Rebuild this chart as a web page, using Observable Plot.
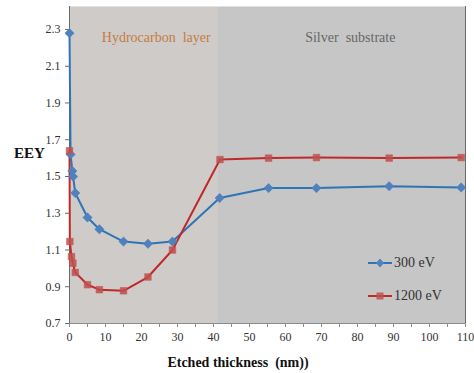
<!DOCTYPE html>
<html>
<head>
<meta charset="utf-8">
<script src="https://cdn.jsdelivr.net/npm/d3@7"></script>
<script src="https://cdn.jsdelivr.net/npm/@observablehq/plot@0.6"></script>
<style>
  html, body { margin: 0; padding: 0; background: #fff; }
  #wrap { position: relative; width: 474px; height: 373px; font-family: 'Liberation Serif', serif; }
  #wrap svg text { font-family: 'Liberation Serif', serif; }
  .leg { position: absolute; left: 368px; font-size: 14px; color: #333; display: flex; align-items: center; }
  .leg svg { margin-right: 2px; }
</style>
</head>
<body>
<div id="wrap"></div>
<script>
// Data
const thick300 = [0, 0.3, 0.8, 1.0, 1.6, 5.0, 8.3, 15.0, 21.8, 28.6, 41.7, 55.3, 68.6, 88.8, 108.8];
const eey300   = [2.28, 1.62, 1.53, 1.50, 1.41, 1.277, 1.213, 1.146, 1.134, 1.146, 1.383, 1.437, 1.437, 1.447, 1.44];
const thick1200 = [0, 0.1, 0.55, 0.95, 1.6, 5.0, 8.3, 15.0, 21.8, 28.6, 41.8, 55.3, 68.6, 88.8, 108.8];
const eey1200   = [1.64, 1.146, 1.064, 1.028, 0.978, 0.911, 0.884, 0.878, 0.953, 1.10, 1.592, 1.60, 1.603, 1.60, 1.603];
const regionNames = ["Hydrocarbon  layer", "Silver  substrate"];
const regionStart = [0, 41.3];
const regionEnd = [41.3, 110];
const regionLabelX = [24.1, 78];
const regionFill = ["#cfcbc9", "#c6c6c6"];
const regionText = ["#c47d44", "#666666"];
const yTicks = [0.7, 0.9, 1.1, 1.3, 1.5, 1.7, 1.9, 2.1, 2.3];
const xTicks = [0, 10, 20, 30, 40, 50, 60, 70, 80, 90, 100, 110];
const xMinorTicks = [0, 5, 10, 15, 20, 25, 30, 35, 40, 45, 50, 55, 60, 65, 70, 75, 80, 85, 90, 95, 100, 105, 110];
const seriesNames = ["300 eV", "1200 eV"];

const s300 = thick300.map((x, i) => ({x, y: eey300[i]}));
const s1200 = thick1200.map((x, i) => ({x, y: eey1200[i]}));
const regions = regionNames.map((name, i) => ({name, x1: regionStart[i], x2: regionEnd[i], fill: regionFill[i], color: regionText[i], lx: regionLabelX[i]}));

const blueLine = "#2f75b5", blueMark = "#4f81bd";
const redLine = "#c0282a", redMark = "#c0504d";
const font = "'Liberation Serif', serif";

const chart = Plot.plot({
  width: 474,
  height: 373,
  marginLeft: 69,
  marginRight: 9,
  marginTop: 6,
  marginBottom: 50,
  style: {fontFamily: font, fontSize: "12px", color: "#333", background: "transparent"},
  x: {domain: [0, 110]},
  y: {domain: [0.7, 2.425]},
  marks: [
    Plot.rect(regions, {x1: "x1", x2: "x2", fill: "fill", shapeRendering: "crispEdges"}),
    Plot.text(regions, {x: "lx", text: "name", fill: "color", frameAnchor: "top", dy: 26, fontSize: 14, fontFamily: font}),
    Plot.ruleY([2.425], {stroke: "#e2e2e2"}),
    Plot.ruleY([0.7], {stroke: "#8c8c8c"}),
    Plot.ruleX([0], {stroke: "#6a6a6a"}),
    Plot.ruleX([110], {stroke: "#6a6a6a"}),
    Plot.axisX({ticks: xMinorTicks, tickSize: 4, tickFormat: () => "", stroke: "#8c8c8c", label: null}),
    Plot.axisX({ticks: xTicks, tickSize: 0, tickPadding: 9, tickFormat: d3.format("d"), fontSize: 12, fill: "#333", label: null}),
    Plot.axisY({ticks: yTicks, tickSize: 4, tickPadding: 5, tickFormat: d3.format(".1f"), fontSize: 12, fill: "#333", stroke: "#6a6a6a", label: null}),
    Plot.line(s300, {x: "x", y: "y", stroke: blueLine, strokeWidth: 2}),
    Plot.line(s1200, {x: "x", y: "y", stroke: redLine, strokeWidth: 2}),
    Plot.dot(s300, {x: "x", y: "y", symbol: "diamond2", r: 4.2, fill: blueMark, stroke: blueMark, strokeWidth: 0.5}),
    Plot.dot(s1200, {x: "x", y: "y", symbol: "square2", r: 4.2, fill: redMark, fillOpacity: 0.85, stroke: redMark, strokeWidth: 0.5})
  ]
});

const wrap = document.getElementById("wrap");
wrap.appendChild(chart);

// Axis titles
const yTitle = document.createElement("div");
yTitle.textContent = "EEY";
Object.assign(yTitle.style, {position: "absolute", left: "14px", top: "145px", fontSize: "15px", fontWeight: "bold", color: "#111"});
wrap.appendChild(yTitle);
const xTitle = document.createElement("div");
xTitle.textContent = "Etched thickness  (nm))";
Object.assign(xTitle.style, {position: "absolute", left: "138px", width: "200px", textAlign: "center", top: "355px", fontSize: "14px", fontWeight: "bold", color: "#111", whiteSpace: "pre"});
wrap.appendChild(xTitle);

// Legend
const legColors = [[blueLine, blueMark, "diamond"], [redLine, redMark, "square"]];
const legTops = [254, 287];
seriesNames.forEach((name, i) => {
  const d = document.createElement("div");
  d.className = "leg";
  d.style.top = legTops[i] + "px";
  const [lc, mc, shape] = legColors[i];
  const marker = shape === "diamond"
    ? `<path d="M12,4.5 L16,9 L12,13.5 L8,9 Z" fill="${mc}"/>`
    : `<rect x="8.5" y="5.5" width="7" height="7" fill="${mc}" fill-opacity="0.85"/>`;
  d.innerHTML = `<svg width="24" height="18"><line x1="0" x2="24" y1="9" y2="9" stroke="${lc}" stroke-width="2"/>${marker}</svg><span>${name}</span>`;
  wrap.appendChild(d);
});
</script>
</body>
</html>
